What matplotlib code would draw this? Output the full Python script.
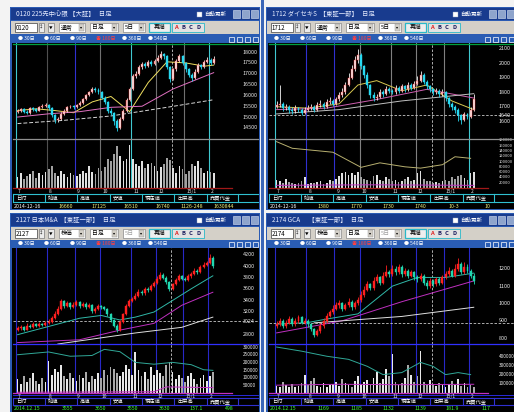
import matplotlib
matplotlib.use('Agg')
import matplotlib.pyplot as plt
from matplotlib.patches import Rectangle
from matplotlib.lines import Line2D
import matplotlib.transforms as mtrans

plt.rcParams['font.family'] = ['Noto Sans CJK JP', 'DejaVu Sans']

# ---------------- shared data ----------------
month_labels = ['7', '8', '9', '10', '11', '12', '15/1', '2']
month_starts = [0, 10, 19, 27, 37, 45, 54, 62]
cursor_index = 49.5
field_labels = ['日付', '始値', '高値', '安値', '現在値', '出来高', '売買代金']
period_tabs = ['30日', '60日', '90日', '180日', '360日', '540日']

# ---------------- top-left: 0120 225先 ----------------
tl_title = '0120 225先中心限 【大証】   日足'
tl_code = '0120'
tl_open0 = 15250
tl_close = [15300, 15350, 15250, 15200, 15400, 15350, 15300, 15450, 15500, 15550,
            15400, 15100, 14850, 14900, 15150, 15300, 15450, 15500, 15450,
            15550, 15650, 15850, 16000, 16150, 16300, 16250, 16150,
            15900, 15700, 15300, 15200, 14800, 14500, 14900, 15300, 15800, 16300,
            16900, 17000, 17300, 17450, 17350, 17550, 17450, 17600,
            17750, 17900, 17800, 17300, 16750, 17200, 17600, 17800, 17500,
            17200, 16950, 16800, 17100, 17400, 17300, 17550, 17650,
            17500, 17700]
tl_high = [15380, 15420, 15400, 15330, 15460, 15480, 15420, 15520, 15590, 15640,
           15600, 15450, 15150, 15000, 15220, 15360, 15510, 15580, 15560,
           15620, 15720, 15900, 16080, 16220, 16400, 16380, 16320,
           16200, 15980, 15750, 15420, 15250, 14900, 15000, 15380, 15900, 16400,
           17000, 17150, 17400, 17550, 17520, 17650, 17620, 17700,
           17850, 18050, 17980, 17850, 17350, 17280, 17680, 17900, 17850,
           17550, 17280, 17050, 17200, 17480, 17450, 17620, 17780,
           17720, 17800]
tl_low = [15180, 15240, 15170, 15120, 15150, 15290, 15220, 15260, 15400, 15460,
          15330, 15020, 14720, 14780, 14860, 15100, 15250, 15400, 15380,
          15400, 15500, 15600, 15800, 15950, 16100, 16150, 16050,
          15820, 15600, 15200, 15080, 14650, 14350, 14450, 14850, 15250, 15750,
          16250, 16800, 16950, 17200, 17250, 17300, 17380, 17400,
          17550, 17700, 17700, 17200, 16600, 16700, 17150, 17550, 17400,
          17100, 16850, 16650, 16750, 17050, 17200, 17250, 17500,
          17420, 17450]
tl_volume = [22, 30, 18, 25, 28, 35, 20, 30, 26, 32,
             38, 45, 30, 25, 35, 28, 22, 30, 26,
             24, 28, 35, 30, 45, 32, 28, 40,
             35, 42, 60, 55, 70, 85, 65, 55, 60, 88,
             60, 50, 45, 55, 40, 48, 52, 45,
             35, 42, 50, 62, 58, 40, 30, 45, 38,
             28, 35, 50, 45, 55, 40, 30, 35,
             32, 30]
tl_ma1_idx = [0, 6, 12, 18, 24, 30, 36, 42, 48, 54, 60, 63]
tl_ma1 = [15300, 15380, 15300, 15200, 15700, 15950, 15250, 16600, 17550, 17500, 17350, 17400]
tl_ma2_idx = [0, 10, 20, 30, 40, 50, 63]
tl_ma2 = [15000, 15150, 15250, 15450, 15500, 16300, 17050]
tl_ma3_idx = [0, 15, 30, 48, 63]
tl_ma3 = [14700, 14850, 15050, 15450, 15800]
tl_price_ticks = [18000, 17500, 17000, 16500, 16000, 15500, 15000, 14500]
tl_values = ['2014-12-16', '16660', '17125', '16510', '16740', '1126-248', '1630844']

# ---------------- top-right: 1712 ダイセキS ----------------
tr_title = '1712 ダイセキS  【東証一部】   日足'
tr_code = '1712'
tr_open0 = 1700
tr_close = [1710, 1720, 1690, 1700, 1680, 1670, 1690, 1680, 1660, 1680,
            1690, 1700, 1680, 1710, 1720, 1700, 1730, 1740, 1720,
            1750, 1780, 1800, 1850, 1900, 1960, 2020, 2060,
            1980, 1920, 1850, 1780, 1760, 1770, 1800, 1790, 1820, 1810,
            1800, 1830, 1810, 1840, 1820, 1850, 1830, 1860,
            1880, 1920, 1870, 1840, 1820, 1800, 1810, 1790, 1800,
            1760, 1720, 1700, 1680, 1640, 1610, 1650, 1630,
            1680, 1750]
tr_high = [1740, 1850, 1730, 1720, 1710, 1700, 1710, 1700, 1690, 1700,
           1710, 1720, 1710, 1730, 1745, 1730, 1750, 1765, 1750,
           1770, 1800, 1830, 1870, 1930, 1990, 2050, 2100,
           2070, 1990, 1940, 1860, 1800, 1790, 1820, 1815, 1840, 1835,
           1825, 1850, 1840, 1860, 1850, 1870, 1865, 1880,
           1910, 1950, 1930, 1885, 1850, 1830, 1830, 1820, 1820,
           1810, 1770, 1735, 1710, 1690, 1650, 1665, 1660,
           1700, 1790]
tr_low = [1690, 1700, 1670, 1680, 1660, 1650, 1660, 1665, 1640, 1650,
          1670, 1675, 1665, 1670, 1700, 1685, 1690, 1720, 1705,
          1710, 1740, 1770, 1790, 1840, 1890, 1950, 2000,
          1960, 1900, 1830, 1760, 1740, 1745, 1760, 1770, 1780, 1795,
          1785, 1790, 1795, 1800, 1805, 1810, 1815, 1820,
          1850, 1870, 1855, 1825, 1800, 1780, 1785, 1770, 1775,
          1740, 1700, 1680, 1660, 1600, 1580, 1600, 1615,
          1620, 1670]
tr_volume = [30, 25, 20, 35, 22, 18, 15, 20, 25, 40,
             15, 20, 18, 22, 25, 15, 20, 30, 25,
             35, 45, 55, 60, 50, 58, 48, 62,
             40, 35, 30, 25, 45, 50, 30, 28, 40, 35,
             25, 30, 22, 28, 35, 40, 25, 30,
             55, 65, 35, 25, 28, 20, 22, 18, 25,
             30, 28, 40, 35, 45, 50, 38, 30,
             55, 62]
tr_ma1_idx = [0, 10, 20, 26, 32, 40, 48, 56, 63]
tr_ma1 = [1700, 1690, 1720, 1850, 1880, 1810, 1850, 1740, 1680]
tr_ma2_idx = [0, 16, 32, 48, 63]
tr_ma2 = [1680, 1690, 1750, 1820, 1760]
tr_ma3_idx = [0, 20, 40, 63]
tr_ma3 = [1650, 1680, 1740, 1790]
tr_vma_idx = [0, 5, 18, 27, 33, 41, 46, 53, 57, 62]
tr_vma = [175, 150, 135, 78, 95, 80, 75, 88, 118, 112]
tr_vma2_idx = [0, 30, 63]
tr_vma2 = [10, 12, 10]
tr_ref = 1640
tr_price_ticks = [2100, 2000, 1900, 1800, 1700, 1640, 1600]
tr_vol_ticks = [180, 160, 140, 120, 100, 80, 60, 40, 20]
tr_values = ['2014-12-16', '1380', '1770', '1730', '1740', '10-3', '10']

# ---------------- bottom-left: 2127 日本M&A ----------------
bl_title = '2127 日本M&A  【東証一部】   日足'
bl_code = '2127'
bl_open0 = 2880
bl_close = [2900, 2920, 2880, 2950, 2930, 2970, 2940, 2980, 2960, 3000,
            3020, 3080, 3150, 3250, 3380, 3300, 3350, 3280, 3320,
            3360, 3300, 3340, 3280, 3320, 3200, 3250, 3300,
            3280, 3250, 3150, 3050, 2950, 2880, 3020, 3150, 3300, 3380,
            3420, 3480, 3550, 3520, 3600, 3580, 3650, 3700,
            3780, 3850, 3800, 3720, 3600, 3680, 3760, 3820, 3780,
            3760, 3820, 3860, 3920, 3900, 3980, 4020, 4060,
            4150, 4000]
bl_high = [2940, 2960, 2940, 2990, 2980, 3010, 2990, 3020, 3000, 3040,
           3060, 3120, 3200, 3300, 3420, 3400, 3390, 3370, 3360,
           3400, 3380, 3370, 3360, 3350, 3330, 3280, 3330,
           3320, 3300, 3270, 3170, 3070, 2970, 3050, 3180, 3330, 3420,
           3460, 3520, 3590, 3580, 3640, 3630, 3690, 3740,
           3820, 3900, 3880, 3820, 3740, 3710, 3800, 3860, 3850,
           3810, 3860, 3900, 3960, 3950, 4020, 4070, 4100,
           4220, 4180]
bl_low = [2860, 2880, 2850, 2870, 2900, 2910, 2920, 2930, 2940, 2950,
          2980, 3000, 3060, 3130, 3230, 3270, 3280, 3250, 3260,
          3300, 3270, 3280, 3250, 3260, 3170, 3180, 3230,
          3250, 3220, 3120, 3020, 2920, 2840, 2860, 3000, 3130, 3280,
          3360, 3400, 3460, 3490, 3500, 3550, 3560, 3630,
          3680, 3760, 3770, 3690, 3560, 3580, 3660, 3740, 3750,
          3730, 3740, 3800, 3840, 3870, 3880, 3960, 4000,
          4040, 3960]
bl_volume = [90, 60, 110, 70, 95, 130, 80, 60, 100, 75,
             210, 120, 160, 140, 180, 110, 90, 130, 100,
             80, 120, 95, 140, 70, 110, 90, 130,
             100, 150, 120, 170, 160, 130, 110, 140, 180, 160,
             120, 270, 150, 110, 140, 90, 170, 120,
             150, 130, 110, 180, 200, 140, 90, 120, 100,
             70, 110, 130, 90, 60, 100, 120, 80,
             110, 140]
bl_ma1_idx = [0, 9, 20, 27, 33, 38, 44, 49, 56, 63]
bl_ma1 = [2790, 2920, 3080, 3130, 3050, 3100, 3190, 3360, 3600, 3830]
bl_ma2_idx = [0, 20, 33, 44, 53, 63]
bl_ma2 = [2650, 2700, 2870, 2990, 3310, 3540]
bl_ma3_idx = [13, 38, 53, 63]
bl_ma3 = [2625, 2820, 2920, 3100]
bl_vma_idx = [0, 10, 17, 24, 28, 33, 38, 44, 50, 56, 60, 63]
bl_vma = [250, 268, 240, 245, 285, 270, 200, 188, 200, 185, 152, 148]
bl_vma2_idx = [0, 44, 48, 63]
bl_vma2 = [5, 8, 40, 35]
bl_ref = 3024
bl_price_ticks = [4200, 4000, 3800, 3600, 3400, 3200, 3024, 2800]
bl_vol_ticks = [300, 250, 200, 150, 100, 50]
bl_values = ['2014.12.15', '3555', '3650', '3550', '3630', '137.1', '498']

# ---------------- bottom-right: 2174 GCA ----------------
br_title = '2174 GCA      【東証一部】   日足'
br_code = '2174'
br_open0 = 870
br_close = [880, 900, 870, 890, 910, 880, 900, 920, 890, 900,
            880, 850, 820, 840, 870, 900, 930, 950, 970,
            990, 1000, 970, 990, 1010, 980, 1000, 1020,
            1050, 1080, 1110, 1090, 1130, 1150, 1120, 1160, 1180, 1170,
            1200, 1180, 1210, 1170, 1190, 1160, 1180, 1150,
            1140, 1160, 1120, 1100, 1130, 1110, 1140, 1120, 1150,
            1170, 1190, 1160, 1200, 1230, 1180, 1210, 1190,
            1160, 1130]
br_high = [900, 915, 910, 905, 925, 920, 915, 935, 925, 915,
           910, 890, 860, 855, 885, 915, 945, 965, 990,
           1010, 1020, 1010, 1005, 1030, 1020, 1015, 1040,
           1070, 1100, 1130, 1120, 1150, 1170, 1160, 1180, 1220, 1195,
           1220, 1215, 1225, 1220, 1205, 1200, 1195, 1190,
           1165, 1175, 1170, 1135, 1145, 1140, 1155, 1150, 1165,
           1190, 1210, 1200, 1225, 1260, 1240, 1240, 1225,
           1200, 1175]
br_low = [860, 870, 860, 860, 880, 870, 870, 890, 880, 880,
          865, 840, 805, 810, 830, 860, 890, 920, 940,
          960, 975, 955, 960, 980, 965, 970, 990,
          1010, 1040, 1070, 1075, 1080, 1120, 1105, 1110, 1150, 1155,
          1160, 1165, 1170, 1155, 1160, 1145, 1150, 1135,
          1125, 1130, 1105, 1085, 1090, 1095, 1100, 1105, 1110,
          1140, 1160, 1150, 1150, 1190, 1170, 1170, 1175,
          1145, 1110]
br_volume = [80, 60, 120, 90, 70, 100, 60, 80, 110, 200,
             90, 130, 160, 80, 70, 110, 60, 90, 100,
             120, 80, 150, 110, 90, 70, 130, 180,
             100, 120, 140, 90, 160, 230, 110, 150, 260, 180,
             420, 120, 90, 110, 160, 310, 200, 120,
             180, 460, 120, 90, 140, 100, 80, 110, 90,
             70, 100, 130, 90, 150, 80, 110, 70,
             90, 60]
br_ma1_idx = [0, 10, 16, 26, 37, 45, 54, 63]
br_ma1 = [880, 890, 910, 940, 1100, 1150, 1150, 1175]
br_ma2_idx = [0, 21, 40, 63]
br_ma2 = [830, 900, 1010, 1130]
br_ma3_idx = [12, 40, 63]
br_ma3 = [888, 925, 978]
br_vma_idx = [0, 8, 16, 23, 29, 34, 40, 46, 50, 54, 58, 62]
br_vma = [500, 455, 400, 366, 290, 200, 222, 333, 290, 200, 222, 200]
br_vma2_idx = [0, 20, 40, 63]
br_vma2 = [85, 95, 90, 95]
br_ref = 889
br_price_ticks = [1200, 1100, 1000, 900, 800]
br_vol_ticks = [400, 300, 200, 100]
br_values = ['2014.12.15', '1169', '1185', '1132', '1139', '181.9', '117']

# ---------------- figure helpers ----------------
W, H = 514, 412
fig = plt.figure(figsize=(W / 100, H / 100), dpi=100)
fig.patch.set_facecolor('#f3f3f3')


def rect(x, y, w, h, fc, ec='none', lw=0.0, z=1):
    fig.add_artist(Rectangle((x / W, 1 - (y + h) / H), w / W, h / H,
                             transform=fig.transFigure, facecolor=fc,
                             edgecolor=ec, linewidth=lw, zorder=z))


def text(x, y, s, color='white', size=4.5, ha='left', weight='normal', z=6):
    fig.text(x / W, 1 - y / H, s, color=color, fontsize=size, ha=ha,
             va='center', fontweight=weight, zorder=z)


def hline(x0, x1, y, color, lw=0.7, ls='-', z=4):
    fig.add_artist(Line2D([x0 / W, x1 / W], [1 - y / H, 1 - y / H],
                          transform=fig.transFigure, color=color, lw=lw,
                          ls=ls, zorder=z))


def vline(x, y0, y1, color, lw=0.7, z=4):
    fig.add_artist(Line2D([x / W, x / W], [1 - y0 / H, 1 - y1 / H],
                          transform=fig.transFigure, color=color, lw=lw, zorder=z))


GEO = {
    'top': dict(top=7, title=(8, 20), tool=(21, 34), tab=(35, 42), ctop=43,
                pbot=139, vbot=188, lab=(194, 202), val=(202, 209), bottom=210),
    'bot': dict(top=213, title=(214, 226), tool=(227, 240), tab=(240, 247), ctop=248,
                pbot=344, vbot=393, lab=(398, 405), val=(405, 412), bottom=420),
}


def draw_panel(X0, geo, cfg):
    g = GEO[geo]
    PW = 250
    top, bottom = g['top'], g['bottom']
    bottom_style = geo == 'bot'
    rect(X0, top, PW, bottom - top, '#2b5bb3')
    # title bar
    t0, t1 = g['title']
    tm = (t0 + t1) / 2
    rect(X0 + 1, t0, PW - 2, t1 - t0, '#183b8e')
    text(X0 + 6, tm, cfg['title'], '#e6ecff', 4.6)
    rect(X0 + 187, tm - 2.5, 5, 5, 'white', ec='#90a0c0', lw=0.3, z=2)
    text(X0 + 194, tm, '自動更新', '#ffffff', 4.0)
    for k in range(3):
        rect(X0 + 223 + k * 9, t0 + 2, 7, t1 - t0 - 4, '#8ea4cc', ec='#d8e2f4', lw=0.4, z=2)
    # toolbar
    b0, b1 = g['tool']
    bm = (b0 + b1) / 2
    rect(X0 + 1, b0, PW - 2, b1 - b0, '#d4d0c8')
    rect(X0 + 5, b0 + 2, 22, b1 - b0 - 4, 'white', ec='#404040', lw=0.5, z=2)
    text(X0 + 6, bm, cfg['code'], '#000000', 4.4)
    rect(X0 + 29, b0 + 2, 5, b1 - b0 - 4, '#ececec', ec='#606060', lw=0.4, z=2)
    text(X0 + 31.5, bm, '↕', '#000000', 3.2, ha='center')
    rect(X0 + 38, b0 + 2, 6, b1 - b0 - 4, '#ececec', ec='#606060', lw=0.4, z=2)
    text(X0 + 41, bm, '▼', '#000000', 2.6, ha='center')
    for (bx, bw, lab, col) in [(49, 26, cfg['mode'], '#000000'), (80, 28, '日足', '#000000'),
                               (113, 22, '5日', cfg['fivecol'])]:
        rect(X0 + bx, b0 + 2, bw, b1 - b0 - 4, 'white', ec='#707070', lw=0.4, z=2)
        rect(X0 + bx + bw - 6, b0 + 3, 5, b1 - b0 - 6, '#d4d0c8', ec='#909090', lw=0.3, z=3)
        text(X0 + bx + 2, bm, lab, col, 4.2)
        text(X0 + bx + bw - 3.5, bm, '▾', '#000000', 3.0, ha='center')
    rect(X0 + 139, b0 + 2, 21, b1 - b0 - 4, '#eeeeee', ec='#28b8c8', lw=0.9, z=2)
    text(X0 + 149.5, bm, '再描', '#000000', 4.2, ha='center')
    rect(X0 + 162, b0 + 2, 32, b1 - b0 - 4, '#e2e2e2', ec='#28b8c8', lw=0.6, z=2)
    for k, ch in enumerate('ABCD'):
        text(X0 + 166 + k * 7.5, bm, ch, '#e02020' if k == 0 else '#202060', 4.2,
             ha='center', weight='bold')
    # tab row
    a0, a1 = g['tab']
    am = (a0 + a1) / 2 + 0.5
    rect(X0 + 1, a0, PW - 2, a1 - a0 + 1, '#2a5db4')
    for k, lab in enumerate(period_tabs):
        sel = (k == 3)
        col = cfg['selcol'] if sel else '#ffffff'
        text(X0 + 8 + k * 26, am, ('◉ ' if sel else '● ') + lab, col, 3.6)
    for k in range(4):
        rect(X0 + 219 + k * 8, a0 + 1.5, 5, a1 - a0 - 2, 'none', ec='#ffffff', lw=0.5, z=2)
    # black chart area
    ctop = g['ctop']
    rect(X0 + 2, ctop, PW - 3, bottom - ctop - 1, '#000000', z=1)
    BX0 = X0 + 3
    BW = 245
    if not bottom_style:
        hline(BX0, BX0 + BW, ctop + 0.5, '#00a040', lw=0.9)
    pbot, vbot = g['pbot'], g['vbot']
    s = cfg['scale']
    a = -0.5 - (cfg['line0'] - BX0) / s
    xlim = (a, a + BW / s)

    pax = fig.add_axes([BX0 / W, 1 - pbot / H, BW / W, (pbot - ctop) / H])
    vax = fig.add_axes([BX0 / W, 1 - vbot / H, BW / W, (vbot - pbot) / H])
    for ax in (pax, vax):
        ax.set_axis_off()
        ax.set_xlim(*xlim)
        ax.set_zorder(3)
        ax.patch.set_alpha(0)
    pax.set_ylim(*cfg['ylim'])
    vax.set_ylim(0, cfg['vtop'])

    # month lines
    for k, m in enumerate(month_starts):
        col = cfg['linecols'][k]
        for ax in (pax, vax):
            ax.axvline(m - 0.5, color=col, lw=0.8, zorder=1)
    for ax in (pax, vax):
        ax.axvline(cursor_index, color='#c8c8c8', lw=0.6, ls=(0, (3, 2)), zorder=1)

    closes = cfg['close']
    opens = [cfg['open0']] + closes[:-1]
    xs = list(range(len(closes)))
    up = [c >= o for o, c in zip(opens, closes)]
    cols = [cfg['upcol'] if u else cfg['dncol'] for u in up]
    pax.vlines(xs, cfg['low'], cfg['high'], colors=cols, lw=0.6, zorder=4)
    bodies = [max(abs(c - o), cfg['mintick']) for o, c in zip(opens, closes)]
    pax.bar(xs, bodies, bottom=[min(o, c) for o, c in zip(opens, closes)], width=0.62,
            color=cols, edgecolor=[cfg['upedge'] if u else cfg['dncol'] for u in up],
            linewidth=0.3, zorder=5)
    for (ix, vals, col, ls) in cfg['mas']:
        pax.plot(ix, vals, color=col, lw=0.7, ls=ls, zorder=3)
    if cfg.get('ref') is not None:
        pax.axhline(cfg['ref'], color='#c8c8c8', lw=0.6, ls=(0, (3, 2)), zorder=2)

    # price labels
    trans = mtrans.blended_transform_factory(pax.transAxes, pax.transData)
    for v in cfg['pticks']:
        pax.text(230 / BW, v, str(v), color='#e8e8e8', fontsize=3.9, va='center',
                 ha='left', transform=trans, zorder=6)

    # volume
    vcols = [cfg['vup'] if u else cfg['vdn'] for u in up]
    vax.bar(xs, cfg['vol'], width=0.55, color=vcols, linewidth=0, zorder=3)
    for (ix, vals, col) in cfg['vmas']:
        vax.plot(ix, vals, color=col, lw=0.7, zorder=4)
    vtrans = mtrans.blended_transform_factory(vax.transAxes, vax.transData)
    for v in cfg['vticks']:
        vax.text(230 / BW, v, str(v * 1000), color='#e8e8e8', fontsize=cfg['vfs'],
                 va='center', ha='left', transform=vtrans, zorder=6)

    # separators
    if bottom_style:
        hline(BX0, BX0 + BW, pbot, '#3030ff', lw=0.9)
        hline(BX0, BX0 + 219, vbot, '#c030c0', lw=0.9)
        hline(BX0, BX0 + BW, vbot + 1.5, '#3030ff', lw=0.6)
    else:
        hline(BX0, BX0 + BW, pbot, '#909090', lw=0.9)
        hline(BX0, BX0 + 219, vbot, '#a01818', lw=0.9)

    # month labels
    for k, m in enumerate(month_starts):
        px = BX0 + (m - 0.5 - a) * s
        text(px + 2, vbot + 3.5, month_labels[k], '#e8e8e8', 3.5)

    # field label row and value row
    l0, l1 = g['lab']
    v0, v1 = g['val']
    seps = [0, 32, 64, 97, 129, 161, 194, 225]
    bcol = '#3030d0' if bottom_style else '#30c0d0'
    hline(BX0, BX0 + BW, l0, bcol, lw=0.8)
    hline(BX0, BX0 + BW, l1, bcol, lw=0.8)
    for sx in seps:
        vline(BX0 + sx, l0, l1, bcol, lw=0.8)
    for k, lab in enumerate(field_labels):
        text(BX0 + seps[k] + 3, (l0 + l1) / 2, lab, '#ffffff', 3.8)
    vm = (v0 + v1) / 2 + 0.5
    vals = cfg['values']
    text(BX0 + 1, vm, vals[0], cfg['valcol0'], 3.8)
    for k in range(1, len(vals)):
        text(BX0 + seps[k + 1] - 4, vm, vals[k], cfg['valcol'], 3.8, ha='right')


common_top = dict(upcol='#f4f4f4', dncol='#28d8f0', upedge='#ff3030', vup='#e0e0e0',
                  vdn='#a0a0a0', mode='通常', fivecol='#000000', selcol='#ff4040',
                  valcol0='#ffffff', valcol='#f0f080')
common_bot = dict(upcol='#ff2020', dncol='#20d8b0', upedge='#ff2020', vup='#e8e8e8',
                  vdn='#a8a8a8', mode='株価', fivecol='#a0a0a0', selcol='#ff4040',
                  valcol0='#40ff40', valcol='#40ff40')

top_lines_l = ['#40c8d0', '#505050', '#3030d0', '#707070', '#40c8d0', '#707070', '#707070', '#40c8d0']
top_lines_r = ['#40c8d0', '#3030d0', '#3030d0', '#808080', '#808080', '#808080', '#808080', '#40c8d0']
bot_lines = ['#2828c8'] * 8

draw_panel(10, 'top', dict(common_top, title=tl_title, code=tl_code, close=tl_close,
                          high=tl_high, low=tl_low, open0=tl_open0, vol=tl_volume,
                          ylim=(13987, 18420), vtop=100, scale=3.113, line0=16,
                          linecols=top_lines_l, mintick=15, vfs=3.4,
                          mas=[(tl_ma1_idx, tl_ma1, '#f0e060', '-'),
                               (tl_ma2_idx, tl_ma2, '#e070c0', '-'),
                               (tl_ma3_idx, tl_ma3, '#d8d8d8', (0, (4, 2)))],
                          vmas=[], ref=None, pticks=tl_price_ticks, vticks=[],
                          values=tl_values))

draw_panel(266, 'top', dict(common_top, title=tr_title, code=tr_code, close=tr_close,
                           high=tr_high, low=tr_low, open0=tr_open0, vol=tr_volume,
                           ylim=(1477, 2140), vtop=185, scale=3.13, line0=275,
                           linecols=top_lines_r, mintick=2, vfs=2.9,
                           mas=[(tr_ma1_idx, tr_ma1, '#d8c850', '-'),
                                (tr_ma2_idx, tr_ma2, '#d060b0', '-'),
                                (tr_ma3_idx, tr_ma3, '#c0c0c0', '-')],
                           vmas=[(tr_vma_idx, tr_vma, '#b8b070'),
                                 (tr_vma2_idx, tr_vma2, '#c030c0')],
                           ref=tr_ref, pticks=tr_price_ticks, vticks=tr_vol_ticks,
                           values=tr_values))

draw_panel(10, 'bot', dict(common_bot, title=bl_title, code=bl_code, close=bl_close,
                          high=bl_high, low=bl_low, open0=bl_open0, vol=bl_volume,
                          ylim=(2625, 4322), vtop=320, scale=3.1, line0=16,
                          linecols=bot_lines, mintick=5, vfs=3.4,
                          mas=[(bl_ma1_idx, bl_ma1, '#30b8a8', '-'),
                               (bl_ma2_idx, bl_ma2, '#c030c0', '-'),
                               (bl_ma3_idx, bl_ma3, '#e0e0e0', '-')],
                          vmas=[(bl_vma_idx, bl_vma, '#30a898'),
                                (bl_vma2_idx, bl_vma2, '#c030c0')],
                          ref=bl_ref, pticks=bl_price_ticks, vticks=bl_vol_ticks,
                          values=bl_values))

draw_panel(266, 'bot', dict(common_bot, title=br_title, code=br_code, close=br_close,
                           high=br_high, low=br_low, open0=br_open0, vol=br_volume,
                           ylim=(766, 1320), vtop=533, scale=3.13, line0=275,
                           linecols=bot_lines, mintick=2, vfs=3.4,
                           mas=[(br_ma1_idx, br_ma1, '#30b8a8', '-'),
                                (br_ma2_idx, br_ma2, '#c030c0', '-'),
                                (br_ma3_idx, br_ma3, '#e0e0e0', '-')],
                           vmas=[(br_vma_idx, br_vma, '#30a898'),
                                 (br_vma2_idx, br_vma2, '#c030c0')],
                           ref=br_ref, pticks=br_price_ticks, vticks=br_vol_ticks,
                           values=br_values))

# divider between the left and right columns
rect(261, 0, 3, H, '#3a66b8', z=0)

fig.savefig('out.png', dpi=100, facecolor=fig.get_facecolor())
